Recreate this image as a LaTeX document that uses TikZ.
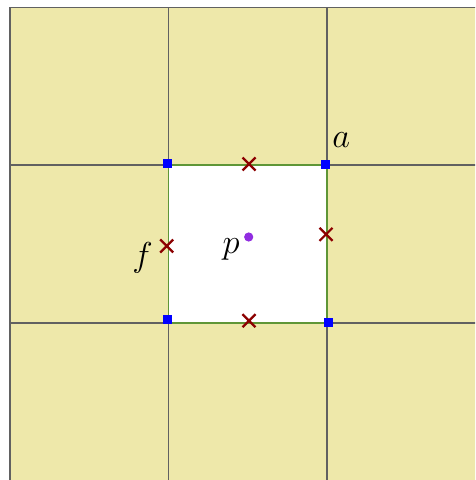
\documentclass[tikz,border=0pt]{standalone}
\usepackage{amsmath}
\definecolor{cellfill}{RGB}{238,232,170}
\definecolor{crossred}{RGB}{140,0,0}
\definecolor{dotpurple}{RGB}{145,45,225}
\definecolor{edgegreen}{RGB}{95,150,55}
\tikzset{
  gridline/.style={line width=0.7pt, color=black!62},
  crossmark/.style={line width=1.1pt, color=crossred},
  cornerbox/.style={fill=blue},
  ptlabel/.style={inner sep=0pt, font=\fontsize{19}{22}\selectfont}
}
\begin{document}
\begin{tikzpicture}[x=0.5pt,y=-0.5pt]
    \useasboundingbox (0,0) rectangle (475,480);
    \clip (0,0) rectangle (475,480);
    % cells
    \fill[color=cellfill] (10,7.5) rectangle (495,495);
    \foreach \v in {10,168.5,327}
        \draw[gridline] (\v,7.5) -- (\v,495);
    \foreach \h in {7.5,165,323}
        \draw[gridline] (10,\h) -- (495,\h);
    % the removed cell
    \fill[white] (168.5,165) rectangle (327,323);
    \draw[line width=0.55pt, color=edgegreen] (168.5,165) rectangle (327,323);
    % corners
    \foreach \x/\y in {167.8/163.7, 325.7/164.7, 167.8/319.8, 328.5/322.2}
        \fill[cornerbox] (\x-4.6,\y-4.6) rectangle (\x+4.6,\y+4.6);
    % edge midpoints
    \foreach \x/\y in {249/164, 326/234.3, 166.7/246, 249/320.7}
        \draw[crossmark] (\x-6.5,\y-6.5) -- (\x+6.5,\y+6.5)
                         (\x-6.5,\y+6.5) -- (\x+6.5,\y-6.5);
    \fill[color=dotpurple] (248.7,237) circle (2.3pt);
    \node[ptlabel] (lblA) at (341.3,140) {$a$};
    \node[ptlabel] (lblF) at (142.5,258) {$f$};
    \node[ptlabel] (lblP) at (231,249.5) {$p$};
\end{tikzpicture}
\end{document}
